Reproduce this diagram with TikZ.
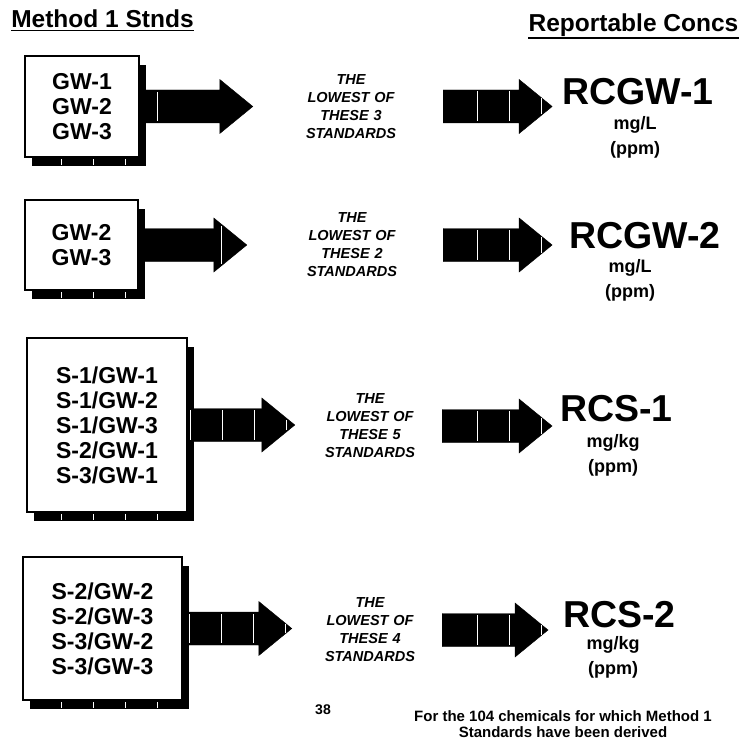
\documentclass[tikz,border=0pt]{standalone}
\usepackage{fontspec}
\setmainfont{Liberation Sans}
\usetikzlibrary{calc, shadows}
\tikzstyle{stdbox} = [draw, line width=1.2pt, fill=white, align=center, inner sep=0pt,
    font=\fontsize{23}{25}\selectfont\bfseries,
    drop shadow={shadow xshift=7pt, shadow yshift=-9pt, fill=black, opacity=1}]
\tikzstyle{lowest} = [text width=100pt, align=center, inner sep=0pt, font=\fontsize{14.5}{18}\selectfont\bfseries\itshape]
\tikzstyle{conc} = [inner sep=0pt, font=\fontsize{37.5}{40}\selectfont\bfseries]
\tikzstyle{units} = [align=center, inner sep=0pt, font=\fontsize{18}{25}\selectfont\bfseries]
\tikzstyle{heading} = [inner sep=0pt, font=\fontsize{24.5}{26}\selectfont\bfseries]
\tikzstyle{uline} = [line width=1.8pt]
\tikzstyle{gap} = [draw=white, line width=0.9pt]
\tikzset{tipgap/.store in=\tipgap, tipgap=0pt, tailgap/.store in=\tailgap, tailgap=0pt}
\tikzstyle{blockarrow} = [fill=black, to path={let \p1=(\tikztostart), \p2=(\tikztotarget) in
    (\x1+\tailgap,\y1+16.5pt) -- (\x2-\tipgap-33pt,\y1+16.5pt) -- (\x2-\tipgap-33pt,\y1+27pt)
    -- (\x2-\tipgap,\y1) -- (\x2-\tipgap-33pt,\y1-27pt) -- (\x2-\tipgap-33pt,\y1-16.5pt)
    -- (\x1+\tailgap,\y1-16.5pt) -- cycle}]

\begin{document}
\begin{tikzpicture}[x=1pt, y=-1pt]
            \path[fill=white, use as bounding box] (0,0) rectangle (739,749);

            % The headings
            \node[heading, anchor=base] (lefthead) at (102.5,28) {Method 1 Stnds};
            \node[heading, anchor=base] (righthead) at (633.5,32) {Reportable Concs};
            \draw[uline] ([yshift=-2pt]lefthead.south west) -- ([yshift=-2pt]lefthead.south east);
            \draw[uline] ([yshift=-1pt]righthead.south west) -- ([yshift=-1pt]righthead.south east);

            % The standards
            \node[stdbox, minimum width=114pt, minimum height=101pt] (box1) at (82,106.5)
                {GW-1\\GW-2\\GW-3};
            \node[stdbox, minimum width=113pt, minimum height=90pt] (box2) at (81.5,245)
                {GW-2\\GW-3};
            \node[stdbox, minimum width=160pt, minimum height=174pt] (box3) at (107,425)
                {S-1/GW-1\\S-1/GW-2\\S-1/GW-3\\S-2/GW-1\\S-3/GW-1};
            \node[stdbox, minimum width=159pt, minimum height=143pt] (box4) at (102.5,628.5)
                {S-2/GW-2\\S-2/GW-3\\S-3/GW-2\\S-3/GW-3};

            \node[lowest] (mid1) at (351,106.5) {THE\\LOWEST OF\\THESE 3\\STANDARDS};
            \node[lowest] (mid2) at (352,245) {THE\\LOWEST OF\\THESE 2\\STANDARDS};
            \node[lowest] (mid3) at (370,426) {THE\\LOWEST OF\\THESE 5\\STANDARDS};
            \node[lowest] (mid4) at (370,630) {THE\\LOWEST OF\\THESE 4\\STANDARDS};

            % The concentrations
            \node[conc] (rc1) at (638,92) {RCGW-1};
            \node[conc] (rc2) at (645,236) {RCGW-2};
            \node[conc] (rc3) at (616.5,409) {RCS-1};
            \node[conc] (rc4) at (619.5,615) {RCS-2};
            \node[units] (unit1) at (635,137) {mg/L\\(ppm)};
            \node[units] (unit2) at (630,280) {mg/L\\(ppm)};
            \node[units] (unit3) at (613,455) {mg/kg\\(ppm)};
            \node[units] (unit4) at (613,657) {mg/kg\\(ppm)};

            % The arrows
            \path (box1.east) edge[blockarrow, tailgap=1pt, tipgap=48pt] (mid1.west);
            \path (box2.east) edge[blockarrow, tailgap=1pt, tipgap=55pt] (mid2.west);
            \path (box3.east) edge[blockarrow, tailgap=1pt, tipgap=25pt] (mid3.west);
            \path (box4.east) edge[blockarrow, tailgap=1pt, tipgap=28pt] (mid4.west);
            \path (mid1.east) edge[blockarrow, tailgap=42pt, tipgap=10pt] (rc1.west);
            \path (mid2.east) edge[blockarrow, tailgap=41pt, tipgap=17pt] (rc2.west);
            \path (mid3.east) edge[blockarrow, tailgap=22pt, tipgap=8pt] (rc3.west);
            \path (mid4.east) edge[blockarrow, tailgap=22pt, tipgap=15pt] (rc4.west);

            % white streaks
            \foreach \x in {61,93,125} {\draw[gap] (\x,159) -- (\x,165); \draw[gap] (\x,292) -- (\x,298);}
            \foreach \x in {61,93,125,157} {\draw[gap] (\x,514) -- (\x,520); \draw[gap] (\x,702) -- (\x,708);}
            \foreach \y in {106.5,245,426,630} {\draw[gap] (477,\y-15) -- (477,\y+15); \draw[gap] (509,\y-15) -- (509,\y+15);}
            \foreach \y in {106.5,245,426} \draw[gap] (541,\y-8) -- (541,\y+8);
            \draw[gap] (541,625) -- (541,635);
            \draw[gap] (157,92) -- (157,121);
            \draw[gap] (221,226) -- (221,264);
            \foreach \x in {190,222,254} \draw[gap] (\x,410) -- (\x,440);
            \draw[gap] (286,420) -- (286,430);
            \foreach \x in {189,221,253} \draw[gap] (\x,614) -- (\x,643);
            \draw[gap] (285,624) -- (285,633);

            % The footnote
            \node[font=\fontsize{14}{14}\selectfont\bfseries] (pageno) at (323,710) {38};
            \node[align=center, inner sep=0pt, font=\fontsize{15}{15.5}\selectfont\bfseries] (note) at (563,724)
                {For the 104 chemicals for which Method 1\\Standards have been derived};
        \end{tikzpicture}
\end{document}
